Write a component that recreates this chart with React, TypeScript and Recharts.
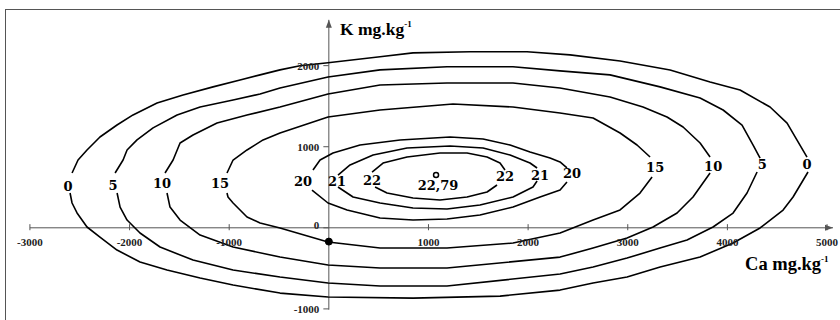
import { LineChart, Line, XAxis, YAxis, ReferenceLine, ReferenceDot } from 'recharts'

// contour lines, [Ca, K] pairs; each level is split at its two labels
const lvl0Top = [[-2577, 676], [-2517, 836], [-2427, 960], [-2297, 1120], [-2126, 1268], [-1965, 1392], [-1724, 1539], [-1463, 1639], [-1162, 1738], [-891, 1824], [-690, 1886], [-490, 1948], [-289, 1998], [-8, 2035], [514, 2110], [845, 2158], [1417, 2171], [1989, 2171], [2421, 2133], [2923, 2057], [3425, 1946], [3826, 1798], [4127, 1699], [4428, 1490], [4599, 1292], [4699, 1082], [4799, 872]]
const lvl0Bottom = [[4809, 688], [4659, 380], [4559, 219], [4328, -2], [4057, -187], [3726, -360], [3325, -484], [2993, -607], [2652, -681], [2321, -768], [1719, -842], [845, -867], [-8, -854], [-490, -805], [-961, -706], [-1292, -620], [-1624, -521], [-1895, -422], [-2126, -274], [-2297, -114], [-2427, 10], [-2527, 183], [-2577, 306], [-2597, 429]]
const lvl5Top = [[-2145, 676], [-2065, 836], [-2025, 960], [-1925, 1084], [-1764, 1233], [-1523, 1391], [-1292, 1490], [-961, 1576], [-690, 1650], [-490, 1724], [-8, 1861], [514, 1948], [1186, 1986], [1848, 1986], [2320, 1935], [2822, 1886], [3324, 1738], [3726, 1601], [3957, 1453], [4147, 1267], [4258, 1020], [4328, 860]]
const lvl5Bottom = [[4298, 688], [4197, 429], [4057, 182], [3856, 10], [3595, -151], [3324, -250], [2993, -373], [2652, -484], [2321, -570], [1186, -718], [514, -718], [-8, -681], [-490, -607], [-961, -521], [-1363, -398], [-1694, -237], [-1895, -64], [-2025, 96], [-2095, 256], [-2125, 429]]
const lvl10Top = [[-1644, 676], [-1563, 836], [-1493, 1046], [-1363, 1145], [-1122, 1293], [-821, 1391], [-490, 1490], [-8, 1650], [514, 1761], [1186, 1786], [1848, 1786], [2320, 1724], [2822, 1613], [3153, 1490], [3394, 1367], [3555, 1243], [3726, 1046], [3826, 873]]
const lvl10Bottom = [[3826, 676], [3655, 380], [3495, 182], [3254, 10], [2993, -126], [2652, -250], [2321, -361], [1186, -496], [514, -496], [-8, -459], [-490, -360], [-961, -237], [-1292, -89], [-1493, 96], [-1594, 256], [-1624, 429]]
const lvl15Top = [[-1022, 676], [-961, 836], [-821, 960], [-660, 1084], [-490, 1169], [-8, 1366], [514, 1453], [1246, 1527], [1848, 1490], [2320, 1416], [2652, 1354], [2923, 1169], [3093, 1021], [3224, 873]]
const lvl15Bottom = [[3244, 627], [3123, 429], [2923, 220], [2652, 96], [2321, -64], [1849, -188], [1186, -249], [514, -249], [-8, -175], [-490, -2], [-690, 59], [-821, 133], [-961, 306], [-1012, 380], [-1022, 429]]
const lvl20Top = [[-159, 713], [-88, 836], [42, 923], [313, 1021], [715, 1083], [1217, 1120], [1548, 1095], [1819, 1021], [2019, 935], [2220, 861], [2320, 812], [2390, 738]]
const lvl20Bottom = [[-169, 466], [-8, 306], [183, 220], [514, 121], [845, 96], [1186, 109], [1517, 158], [1849, 257], [2120, 380], [2321, 466], [2390, 565]]
const lvl21Top = [[92, 651], [213, 775], [444, 898], [785, 984], [1217, 1009], [1548, 984], [1819, 898], [2019, 799], [2090, 738]]
const lvl21Bottom = [[92, 503], [243, 380], [514, 306], [845, 244], [1186, 232], [1517, 281], [1849, 380], [2049, 503], [2090, 577]]
const lvl22Top = [[434, 688], [544, 799], [785, 873], [1116, 923], [1387, 923], [1588, 873], [1718, 799], [1768, 713]]
const lvl22Bottom = [[464, 503], [584, 429], [845, 368], [1116, 343], [1387, 380], [1588, 442], [1688, 528]]

// level labels: text, Ca, K
const levelLabels: [string, number, number][] = [
  ['0', -2617, 513], ['5', -2165, 526], ['10', -1674, 550], ['15', -1092, 550],
  ['20', -259, 566], ['21', 82, 566], ['22', 434, 578],
  ['22', 1769, 639], ['21', 2120, 651], ['20', 2441, 676],
  ['15', 3275, 750], ['10', 3857, 762], ['5', 4349, 787], ['0', 4800, 787],
]

const maxPoint = { x: 1076, y: 651, label: '22,79' }
const xTicks = [-3000, -2000, -1000, 1000, 2000, 3000, 4000, 5000]
const yTicks = [-1000, 0, 1000, 2000]

const contours = [lvl0Top, lvl0Bottom, lvl5Top, lvl5Bottom, lvl10Top, lvl10Bottom, lvl15Top, lvl15Bottom,
  lvl20Top, lvl20Bottom, lvl21Top, lvl21Bottom, lvl22Top, lvl22Bottom]
  .map((c) => c.map(([x, y]) => ({ x, y })))

const AXIS = '#555'
const SERIF = '"Liberation Serif", "Times New Roman", serif'
const LABEL_FONT = '"DejaVu Serif", serif'

const textShape = (value: string, style: Record<string, any>) => (p: any) => (
  <text x={p.cx} y={p.cy} dominantBaseline="central" {...style}>{value}</text>
)

export default function App() {
  return (
    <div style={{ position: 'fixed', left: 0, top: 0, width: 840, height: 320, background: '#fff' }}>
      <div
        style={{
          position: 'absolute', left: 5, top: 9, width: 835, height: 311, boxSizing: 'border-box',
          borderLeft: `1px solid ${AXIS}`, borderTop: `1px solid ${AXIS}`,
        }}
      />
      <div style={{ position: 'absolute', left: 0, top: 0 }}>
        <LineChart width={840} height={320} margin={{ top: 17, right: 3, bottom: 3, left: 5 }}>
          <XAxis dataKey="x" type="number" domain={[-3250, 5100]} allowDataOverflow hide />
          <YAxis dataKey="y" type="number" domain={[-1100, 2600]} allowDataOverflow hide />

          <ReferenceLine segment={[{ x: -3000, y: 0 }, { x: 5060, y: 0 }]} stroke={AXIS} strokeWidth={1} />
          <ReferenceLine segment={[{ x: 0, y: -1010 }, { x: 0, y: 2565 }]} stroke={AXIS} strokeWidth={1} />
          {xTicks.map((t) => (
            <ReferenceLine key={`xt${t}`} segment={[{ x: t, y: -30 }, { x: t, y: 45 }]} stroke={AXIS} />
          ))}
          {yTicks.map((t) => (
            <ReferenceLine key={`yt${t}`} segment={[{ x: -55, y: t }, { x: 0, y: t }]} stroke={AXIS} />
          ))}

          {contours.map((c, i) => (
            <Line
              key={`c${i}`}
              data={c}
              dataKey="y"
              type="linear"
              stroke="#000"
              strokeWidth={1.6}
              strokeLinejoin="round"
              dot={false}
              activeDot={false}
              isAnimationActive={false}
            />
          ))}

          {/* arrow heads */}
          <ReferenceDot
            x={5060}
            y={0}
            shape={(p: any) => (
              <polygon points={`${p.cx},${p.cy} ${p.cx - 8},${p.cy - 3} ${p.cx - 8},${p.cy + 3}`} fill={AXIS} />
            )}
          />
          <ReferenceDot
            x={0}
            y={2565}
            shape={(p: any) => (
              <polygon points={`${p.cx},${p.cy} ${p.cx - 3},${p.cy + 8} ${p.cx + 3},${p.cy + 8}`} fill={AXIS} />
            )}
          />

          {xTicks.map((t) => (
            <ReferenceDot
              key={`xl${t}`}
              x={t}
              y={-175}
              shape={textShape(String(t), { textAnchor: 'middle', fontFamily: SERIF, fontWeight: 700, fontSize: 11, fill: '#222' })}
            />
          ))}
          {yTicks.map((t) => (
            <ReferenceDot
              key={`yl${t}`}
              x={-95}
              y={t === 0 ? 40 : t}
              shape={textShape(String(t), { textAnchor: 'end', fontFamily: SERIF, fontWeight: 700, fontSize: 11, fill: '#222' })}
            />
          ))}

          <ReferenceDot x={0} y={-170} r={3.5} fill="#000" stroke="#000" />
          <ReferenceDot x={maxPoint.x} y={maxPoint.y} r={2.5} fill="#fff" stroke="#000" strokeWidth={1.5} />
          <ReferenceDot
            x={maxPoint.x + 20}
            y={maxPoint.y - 125}
            shape={textShape(maxPoint.label, { textAnchor: 'middle', fontFamily: LABEL_FONT, fontWeight: 700, fontSize: 13, fill: '#000' })}
          />

          {levelLabels.map(([txt, x, y], i) => (
            <ReferenceDot
              key={`ll${i}`}
              x={x}
              y={y}
              shape={textShape(txt, { textAnchor: 'middle', fontFamily: LABEL_FONT, fontWeight: 700, fontSize: 13, fill: '#000' })}
            />
          ))}

          <ReferenceDot
            x={112}
            y={2378}
            shape={(p: any) => (
              <text x={p.cx} y={p.cy} fontFamily={SERIF} fontWeight={700} fontSize={17.5} fill="#000">
                K mg.kg<tspan dy={-8} fontSize={9}>-1</tspan>
              </text>
            )}
          />
          <ReferenceDot
            x={4177}
            y={-520}
            shape={(p: any) => (
              <text x={p.cx} y={p.cy} fontFamily={SERIF} fontWeight={700} fontSize={18.5} fill="#000">
                Ca mg.kg<tspan dy={-8} fontSize={9}>-1</tspan>
              </text>
            )}
          />
        </LineChart>
      </div>
    </div>
  )
}
